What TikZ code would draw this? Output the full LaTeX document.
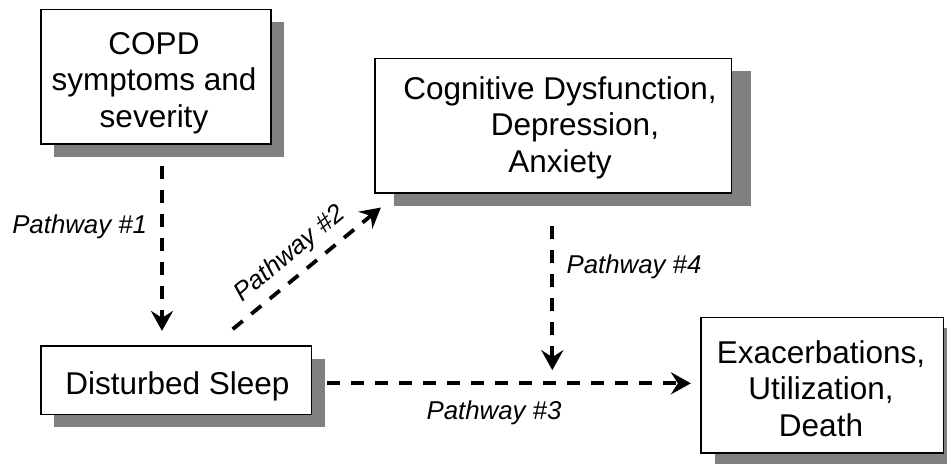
\documentclass[tikz,border=0pt]{standalone}
\usepackage{fontspec}
\setmainfont{Liberation Sans}
\usetikzlibrary{arrows.meta,shadows,calc}
\definecolor{shadowgray}{HTML}{808080}
\begin{document}
\begin{tikzpicture}[x=1pt,y=-1pt,
  box/.style={draw=black, line width=1.6pt, fill=white, inner sep=0pt},
  sh/.style 2 args={drop shadow={shadow xshift=#1pt, shadow yshift=-#2pt, fill=shadowgray, opacity=1}},
  boxtext/.style={align=center, font=\fontsize{31.5}{36.7}\selectfont, inner sep=0pt},
  plabel/.style={font=\fontsize{25.8}{30}\selectfont\itshape, inner sep=0pt},
  dasharrow/.style={line width=3.8pt, dash pattern=on 13pt off 11pt,
     -{Stealth[length=20pt,width=22pt,inset=7pt]}}
]
\useasboundingbox (0,0) rectangle (947,464);

% boxes
\node[box, sh={13}{13}, minimum width=229.7pt, minimum height=134.7pt] (b1) at (156,76.7) {};
\node[box, sh={19}{13}, minimum width=356.7pt, minimum height=134.7pt] (b2) at (553.3,125.7) {};
\node[box, sh={13}{13}, minimum width=270.7pt, minimum height=68.6pt] (b3) at (176.3,380) {};
\node[box, sh={14}{11}, minimum width=242.6pt, minimum height=135.4pt] (b4) at (822,385) {};

% box texts
\node[boxtext] (t1) at (154,83) {COPD\\symptoms and\\severity};
\node[boxtext] (t2) at (560,127.8) {Cognitive Dysfunction,\\\hspace*{30pt}Depression,\\Anxiety};
\node[boxtext] (t3) at (177.5,386.8) {Disturbed Sleep};
\node[boxtext] (t4) at (821,388.5) {Exacerbations,\\Utilization,\\Death};

% connectors
\draw[dasharrow] ($(b1.south)+(6,21)$) -- ($(b3.north)+(-14.3,-14)$);
\draw[dasharrow] ($(b3.north)+(56.4,-15.7)$) -- ($(b2.south west)+(6.7,13.7)$);
\draw[dasharrow] ($(b3.east)+(15,3.3)$) -- ($(b4.west)+(-9,-1.7)$);
\draw[dasharrow] ($(b2.south)+(-1,32)$) -- ($(b2.south)+(-1,176.3)$);

% labels
\node[plabel] (l1) at (79.7,226.7) {Pathway \#1};
\node[plabel, rotate=39.6] (l2) at (290,254) {Pathway \#2};
\node[plabel] (l3) at (494,413.3) {Pathway \#3};
\node[plabel] (l4) at (634,266.7) {Pathway \#4};
\end{tikzpicture}
\end{document}
